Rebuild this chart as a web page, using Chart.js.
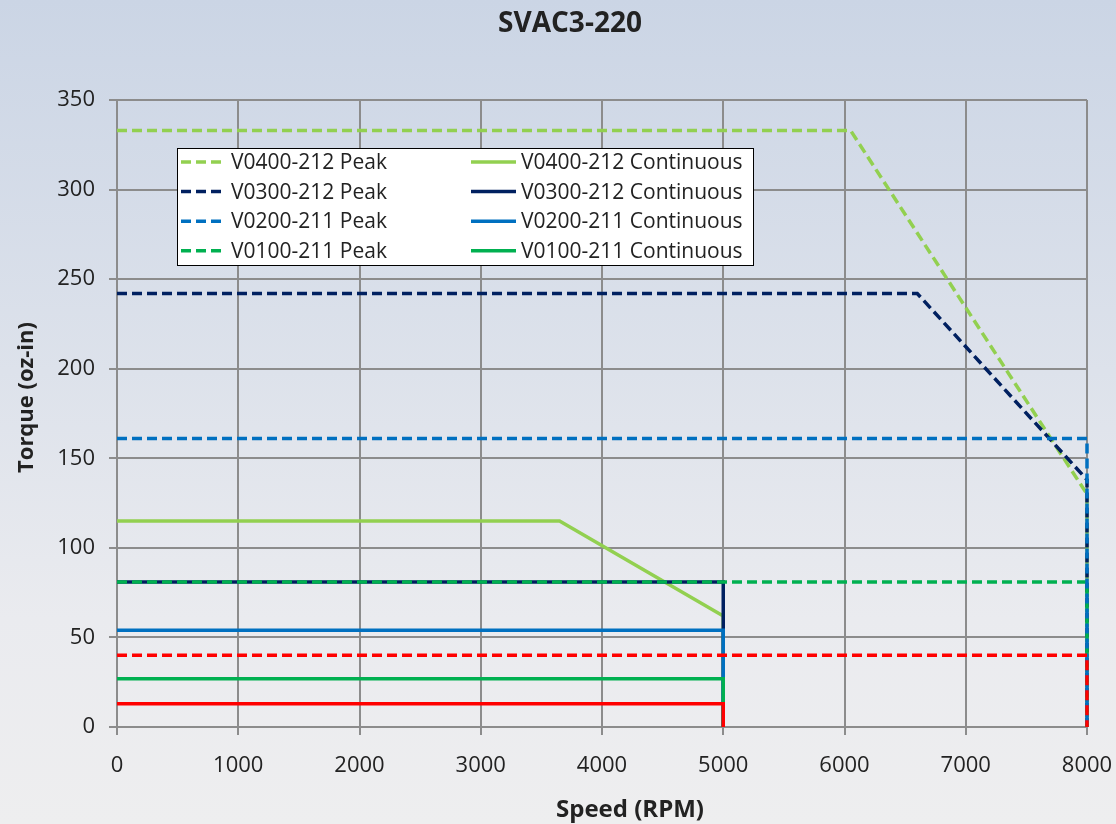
<!DOCTYPE html>
<html>
<head>
<meta charset="utf-8">
<script src="https://cdn.jsdelivr.net/npm/chart.js@4"></script>
<style>
  body { margin: 0; }
  #wrap {
    width: 1116px; height: 824px;
    background: linear-gradient(to bottom, #cbd5e5 0%, #dde2eb 45%, #eaebef 75%, #eeeeef 100%);
  }
</style>
</head>
<body>
<div id="wrap"><canvas id="torqueChart" width="1116" height="824"></canvas></div>
<script>
// speed (RPM) / torque (oz-in) corner points of each curve
const peak400Speed = [0, 6050, 8000, 8000];
const peak400Torque = [333, 333, 130, 0];
const peak300Speed = [0, 6600, 8000, 8000];
const peak300Torque = [242, 242, 138, 0];
const peak200Speed = [0, 8000, 8000];
const peak200Torque = [161, 161, 0];
const peak100Speed = [0, 8000, 8000];
const peak100Torque = [81, 81, 0];
const peakRedSpeed = [0, 8000, 8000];
const peakRedTorque = [40, 40, 0];

const cont400Speed = [0, 3650, 5000, 5000];
const cont400Torque = [115, 115, 62, 0];
const cont300Speed = [0, 5000, 5000];
const cont300Torque = [81, 81, 0];
const cont200Speed = [0, 5000, 5000];
const cont200Torque = [54, 54, 0];
const cont100Speed = [0, 5000, 5000];
const cont100Torque = [27, 27, 0];
const contRedSpeed = [0, 5000, 5000];
const contRedTorque = [13, 13, 0];

const legendRows = [
  ["V0400-212 Peak", "V0400-212 Continuous", "#92D050"],
  ["V0300-212 Peak", "V0300-212 Continuous", "#002060"],
  ["V0200-211 Peak", "V0200-211 Continuous", "#0070C0"],
  ["V0100-211 Peak", "V0100-211 Continuous", "#00B050"]
];

const chartTitle = "SVAC3-220";
const xTitle = "Speed (RPM)";
const yTitle = "Torque (oz-in)";

const FONT = "'Open Sans', sans-serif";
const GRID = "#8c8c8c";
const INK = "#222222";

function pts(xs, ys) {
  return xs.map((x, i) => ({x: x, y: ys[i]}));
}
function line(label, xs, ys, color, dashed) {
  return {
    label: label,
    data: pts(xs, ys),
    borderColor: color,
    backgroundColor: color,
    borderWidth: 3.5,
    borderDash: dashed ? [10, 5] : [],
    pointRadius: 0,
    tension: 0,
    fill: false,
    clip: false
  };
}

// first in list ends up on top
const datasets = [
  line("Red Continuous", contRedSpeed, contRedTorque, "#FF0000", false),
  line("Red Peak", peakRedSpeed, peakRedTorque, "#FF0000", true),
  line("V0200-211 Peak", peak200Speed, peak200Torque, "#0070C0", true),
  line("V0100-211 Peak", peak100Speed, peak100Torque, "#00B050", true),
  line("V0100-211 Continuous", cont100Speed, cont100Torque, "#00B050", false),
  line("V0200-211 Continuous", cont200Speed, cont200Torque, "#0070C0", false),
  line("V0300-212 Continuous", cont300Speed, cont300Torque, "#002060", false),
  line("V0300-212 Peak", peak300Speed, peak300Torque, "#002060", true),
  line("V0400-212 Continuous", cont400Speed, cont400Torque, "#92D050", false),
  line("V0400-212 Peak", peak400Speed, peak400Torque, "#92D050", true)
];

// legend box inside the plot, two columns
const boxLegend = {
  id: "boxLegend",
  afterDatasetsDraw(chart) {
    const ctx = chart.ctx;
    const a = chart.chartArea;
    const x0 = a.left + 60, y0 = a.top + 48, w = 576, h = 117;
    ctx.save();
    ctx.fillStyle = "#ffffff";
    ctx.fillRect(x0, y0, w, h);
    ctx.strokeStyle = "#000000";
    ctx.lineWidth = 1;
    ctx.strokeRect(x0 + 0.5, y0 + 0.5, w, h);
    ctx.font = "21px " + FONT;
    ctx.fillStyle = INK;
    ctx.textBaseline = "middle";
    legendRows.forEach((r, i) => {
      const y = y0 + 14 + i * 29.6;
      ctx.strokeStyle = r[2];
      ctx.lineWidth = 3.5;
      ctx.setLineDash([10, 5]);
      ctx.beginPath(); ctx.moveTo(x0 + 4, y); ctx.lineTo(x0 + 46, y); ctx.stroke();
      ctx.setLineDash([]);
      ctx.beginPath(); ctx.moveTo(x0 + 294, y); ctx.lineTo(x0 + 339, y); ctx.stroke();
      ctx.fillText(r[0], x0 + 54, y + 1);
      ctx.fillText(r[1], x0 + 344, y + 1);
    });
    ctx.restore();
  }
};

// chart title and axis titles, placed like the original
const titles = {
  id: "titles",
  afterDraw(chart) {
    const ctx = chart.ctx;
    const a = chart.chartArea;
    ctx.save();
    ctx.fillStyle = INK;
    ctx.textAlign = "center";
    ctx.textBaseline = "middle";
    ctx.font = "bold 28px " + FONT;
    ctx.fillText(chartTitle, 570, 24);
    ctx.font = "bold 24px " + FONT;
    ctx.fillText(xTitle, (a.left + a.right) / 2 + 28, 810);
    ctx.translate(27, (a.top + a.bottom) / 2 - 16);
    ctx.rotate(-Math.PI / 2);
    ctx.font = "bold 22px " + FONT;
    ctx.fillText(yTitle, 0, 0);
    ctx.restore();
  }
};

new Chart(document.getElementById("torqueChart"), {
  type: "line",
  data: { datasets: datasets },
  plugins: [boxLegend, titles],
  options: {
    responsive: false,
    animation: false,
    layout: { padding: { left: 0, right: 29, top: 100, bottom: 0 } },
    plugins: {
      legend: { display: false },
      tooltip: { enabled: false },
      title: { display: false }
    },
    scales: {
      x: {
        type: "linear",
        min: 0, max: 8000,
        ticks: {
          stepSize: 1000, color: INK, padding: 18,
          font: { family: FONT, size: 22 },
          callback: v => String(v)
        },
        grid: { color: GRID, lineWidth: 2, tickLength: 8 },
        border: { color: GRID, width: 2 },
        afterFit(scale) {
          scale.height = 97;
          scale.paddingRight = 0;
        }
      },
      y: {
        min: 0, max: 350,
        ticks: { stepSize: 50, color: INK, padding: 14, font: { family: FONT, size: 22 } },
        grid: { color: GRID, lineWidth: 2, tickLength: 8 },
        border: { color: GRID, width: 2 },
        afterFit(scale) {
          scale.width = 117;
          scale.paddingTop = 0;
        }
      }
    }
  }
});
</script>
</body>
</html>
